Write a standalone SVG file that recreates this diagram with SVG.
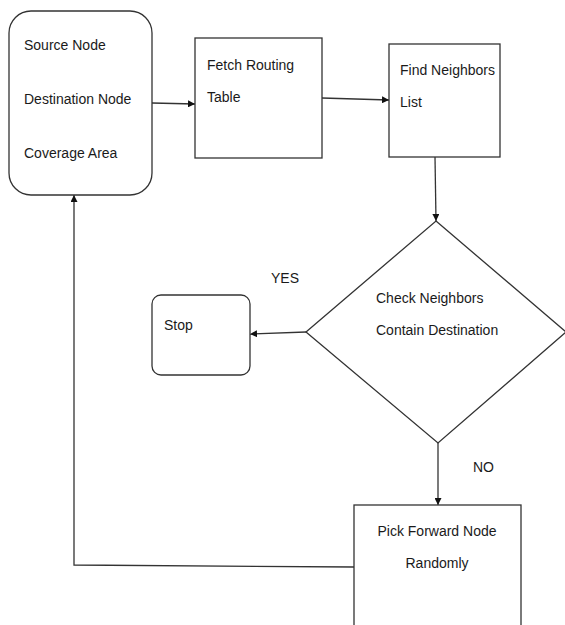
<svg xmlns="http://www.w3.org/2000/svg" width="565" height="625" viewBox="0 0 565 625">
  <style>
    .box { fill: #ffffff; stroke: #333333; stroke-width: 1.3; }
    .edge { fill: none; stroke: #333333; stroke-width: 1.3; }
    text { font-family: "Liberation Sans", Arial, sans-serif; font-size: 14px; fill: #1a1a1a; }
  </style>
  <defs>
    <marker id="arrow" viewBox="0 0 10 10" refX="10" refY="5" markerWidth="7" markerHeight="7" orient="auto" markerUnits="userSpaceOnUse">
      <path d="M0,0 L10,5 L0,10 z" fill="#111111"/>
    </marker>
  </defs>
  <rect width="565" height="625" fill="#ffffff"/>

  <g id="connectors">
    <line class="edge" x1="152" y1="103" x2="195" y2="104" marker-end="url(#arrow)"/>
    <line class="edge" x1="322" y1="98" x2="389" y2="100" marker-end="url(#arrow)"/>
    <line class="edge" x1="435" y1="157" x2="436" y2="221" marker-end="url(#arrow)"/>
    <line class="edge" x1="306" y1="332" x2="250" y2="334" marker-end="url(#arrow)"/>
    <line class="edge" x1="438" y1="443" x2="438" y2="505" marker-end="url(#arrow)"/>
    <polyline class="edge" points="354,567 74,565 74,195" marker-end="url(#arrow)"/>
  </g>

  <g id="source">
    <rect class="box" x="9" y="11" width="143" height="184" rx="22" ry="22"/>
    <text x="24" y="50">Source Node</text>
    <text x="24" y="104">Destination Node</text>
    <text x="24" y="158">Coverage Area</text>
  </g>

  <g id="fetch">
    <rect class="box" x="195" y="38" width="127" height="120"/>
    <text x="207" y="70">Fetch Routing</text>
    <text x="207" y="102">Table</text>
  </g>

  <g id="neighbors">
    <rect class="box" x="389" y="44" width="111" height="113"/>
    <text x="400" y="75">Find Neighbors</text>
    <text x="400" y="107">List</text>
  </g>

  <g id="check">
    <polygon class="box" points="436,221 566,332 438,443 306,332"/>
    <text x="376" y="303">Check Neighbors</text>
    <text x="376" y="335">Contain Destination</text>
  </g>

  <g id="stop">
    <rect class="box" x="152" y="295" width="98" height="80" rx="9" ry="9"/>
    <text x="164" y="330">Stop</text>
  </g>

  <g id="pick">
    <rect class="box" x="354" y="505" width="167" height="130"/>
    <text x="437" y="536" text-anchor="middle">Pick Forward Node</text>
    <text x="437" y="568" text-anchor="middle">Randomly</text>
  </g>

  <g id="labels">
    <text x="271" y="283">YES</text>
    <text x="473" y="472">NO</text>
  </g>
</svg>
